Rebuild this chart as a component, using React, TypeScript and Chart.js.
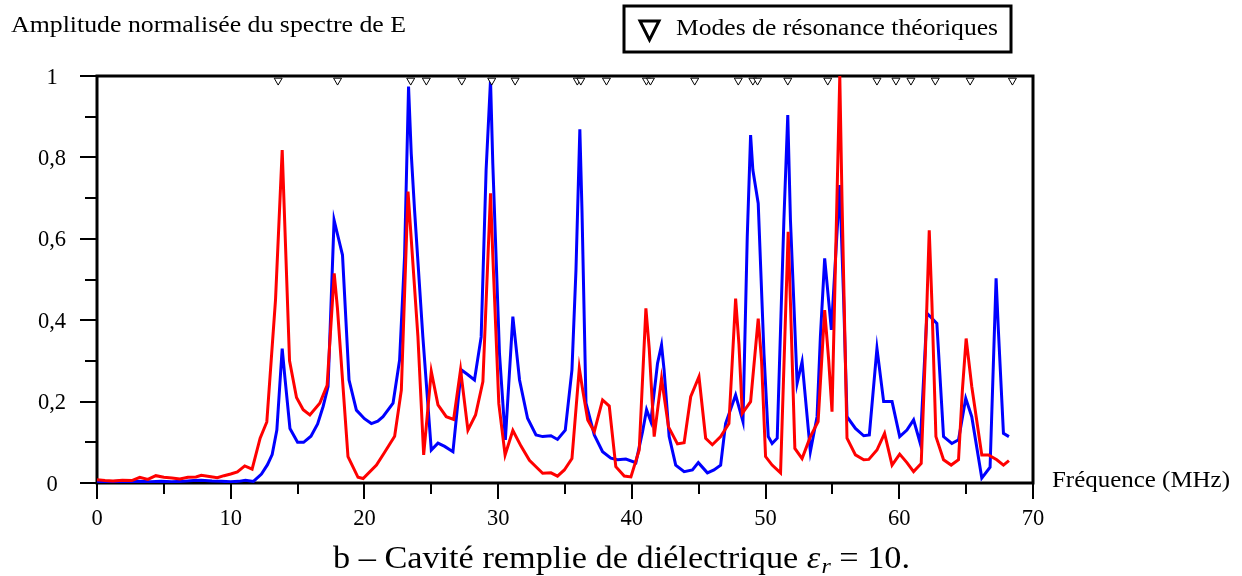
import React, { useEffect, useRef } from "react";
import { Chart, registerables } from "chart.js";

Chart.register(...registerables);

// ---------------- data ----------------
const blueFreq = [
  0, 0.8, 1.6, 2.4, 3.2, 4.0, 4.8, 5.6, 6.4, 7.2, 7.8, 8.6, 9.3, 10.0, 10.6, 11.1, 11.7, 12.3, 12.75, 13.1,
  13.45, 13.85, 14.05, 14.43, 15.0, 15.45, 16.0, 16.5, 16.91, 17.28, 17.73, 18.03, 18.36, 18.85, 19.4, 20.0,
  20.52, 21.0, 21.39, 22.14, 22.63, 23.0, 23.3, 23.5, 23.75, 24.37, 25.0, 25.5, 26.0, 26.62, 27.24, 27.74,
  28.23, 28.73, 29.1, 29.43, 29.6, 30.1, 30.54, 31.1, 31.6, 32.2, 32.83, 33.33, 33.95, 34.44, 35.02, 35.52,
  35.82, 36.11, 36.27, 36.57, 37.19, 37.81, 38.43, 38.93, 39.55, 40.3, 40.8, 41.1, 41.42, 41.92, 42.22, 42.41,
  42.79, 43.28, 43.91, 44.53, 44.97, 45.65, 46.14, 46.64, 47.01, 47.76, 48.31, 48.63, 48.88, 49.05, 49.45,
  49.88, 50.2, 50.49, 50.87, 51.37, 51.66, 51.86, 52.36, 52.73, 53.35, 53.85, 54.1, 54.42, 54.92, 55.55, 55.84,
  56.09, 56.72, 57.34, 57.76, 58.33, 58.83, 59.46, 60.03, 60.57, 61.07, 61.57, 62.07, 62.31, 62.81, 63.31,
  63.93, 64.43, 64.97, 65.42, 66.17, 66.79, 67.24, 67.41, 67.79, 68.2,
];
const blueAmp = [
  0.004, 0.003, 0.004, 0.003, 0.004, 0.003, 0.004, 0.003, 0.004, 0.006, 0.007, 0.005, 0.004, 0.003, 0.004, 0.007, 0.004, 0.022, 0.045, 0.07,
  0.13, 0.33, 0.26, 0.134, 0.1, 0.1, 0.115, 0.145, 0.188, 0.237, 0.646, 0.605, 0.56, 0.253, 0.179, 0.158,
  0.146, 0.152, 0.163, 0.196, 0.302, 0.556, 0.974, 0.81, 0.67, 0.359, 0.081, 0.098, 0.09, 0.077, 0.278, 0.266,
  0.253, 0.359, 0.769, 0.99, 0.785, 0.318, 0.106, 0.409, 0.253, 0.159, 0.118, 0.114, 0.116, 0.107, 0.13, 0.278,
  0.523, 0.869, 0.67, 0.196, 0.118, 0.077, 0.061, 0.057, 0.059, 0.05, 0.126, 0.18, 0.151, 0.294, 0.339, 0.278,
  0.114, 0.044, 0.028, 0.032, 0.05, 0.025, 0.032, 0.044, 0.146, 0.216, 0.151, 0.605, 0.855, 0.769, 0.687,
  0.318, 0.114, 0.097, 0.11, 0.646, 0.904, 0.646, 0.245, 0.298, 0.077, 0.163, 0.36, 0.552, 0.376, 0.732, 0.45,
  0.163, 0.134, 0.116, 0.118, 0.331, 0.2, 0.2, 0.114, 0.13, 0.155, 0.097, 0.417, 0.409, 0.392, 0.114,
  0.097, 0.106, 0.208, 0.163, 0.012, 0.039, 0.503, 0.376, 0.122, 0.114,
];

const redFreq = [
  0, 0.6, 1.2, 1.9, 2.6, 3.2, 3.8, 4.4, 5.0, 5.6, 6.2, 6.8, 7.4, 7.8, 8.4, 9.0, 9.5, 10.0, 10.5, 11.05, 11.6,
  12.2, 12.7, 13.35, 13.85, 14.4, 14.92, 15.42, 15.92, 16.66, 17.21, 17.74, 17.98, 18.77, 19.52, 19.9, 20.9,
  21.5, 22.26, 22.76, 23.26, 23.5, 24.0, 24.43, 25.0, 25.5, 26.12, 26.67, 27.19, 27.74, 28.31, 28.86, 29.43,
  29.6, 30.05, 30.52, 31.1, 31.72, 32.34, 32.83, 33.33, 33.95, 34.44, 34.95, 35.52, 36.07, 36.32, 36.7, 37.19,
  37.81, 38.31, 38.8, 39.43, 39.93, 40.55, 41.05, 41.3, 41.67, 42.22, 42.74, 43.41, 43.91, 44.4, 45.02, 45.52,
  46.02, 46.64, 47.26, 47.76, 48.01, 48.26, 48.88, 49.45, 49.7, 50.0, 50.49, 51.12, 51.69, 51.86, 52.19, 52.73,
  53.35, 53.93, 54.42, 54.72, 54.97, 55.55, 55.72, 56.09, 56.72, 57.34, 57.72, 58.33, 58.9, 59.46, 60.03, 60.57,
  61.07, 61.64, 61.95, 62.24, 62.44, 62.74, 63.31, 63.88, 64.43, 64.72, 65.0, 65.42, 66.17, 66.67, 67.29, 67.79,
  68.2,
];
const redAmp = [
  0.008, 0.006, 0.005, 0.007, 0.006, 0.014, 0.009, 0.018, 0.014, 0.012, 0.01, 0.014, 0.015, 0.019, 0.016, 0.013, 0.018, 0.022, 0.027, 0.042, 0.034,
  0.11, 0.15, 0.45, 0.818, 0.3, 0.21, 0.18, 0.167, 0.196, 0.24, 0.515, 0.43, 0.065, 0.014, 0.011, 0.044,
  0.075, 0.115, 0.228, 0.716, 0.6, 0.36, 0.069, 0.274, 0.192, 0.163, 0.156, 0.278, 0.13, 0.167, 0.249, 0.712,
  0.56, 0.195, 0.069, 0.129, 0.09, 0.056, 0.04, 0.024, 0.025, 0.017, 0.032, 0.06, 0.282, 0.229, 0.155, 0.126,
  0.204, 0.189, 0.04, 0.017, 0.015, 0.081, 0.429, 0.33, 0.114, 0.257, 0.138, 0.096, 0.099, 0.212, 0.261, 0.11,
  0.094, 0.114, 0.146, 0.453, 0.34, 0.171, 0.2, 0.404, 0.3, 0.065, 0.044, 0.025, 0.617, 0.443, 0.085, 0.06,
  0.114, 0.151, 0.425, 0.302, 0.175, 1.0, 0.69, 0.11, 0.069, 0.057, 0.058, 0.081, 0.122, 0.044, 0.071, 0.05,
  0.028, 0.048, 0.318, 0.621, 0.443, 0.114, 0.057, 0.044, 0.057, 0.229, 0.355, 0.237, 0.069, 0.069, 0.057, 0.044,
  0.055,
];

// theoretical resonance modes (MHz)
const modeFreq = [
  13.55, 17.99, 23.46, 24.63, 27.28, 29.52, 31.27, 35.92, 36.18, 38.1, 41.09, 41.39, 44.7, 47.96, 49.05, 49.4,
  51.66, 54.65, 58.33, 59.75, 60.87, 62.69, 65.3, 68.46,
];

const yTickValues = [0, 0.1, 0.2, 0.3, 0.4, 0.5, 0.6, 0.7, 0.8, 0.9, 1];
const yTickLabels = ["0", "", "0,2", "", "0,4", "", "0,6", "", "0,8", "", "1"];
const xTickValues = [0, 5, 10, 15, 20, 25, 30, 35, 40, 45, 50, 55, 60, 65, 70];
const xTickLabels = ["0", "", "10", "", "20", "", "30", "", "40", "", "50", "", "60", "", "70"];

const yTitle = "Amplitude normalisée du spectre de E";
const xTitle = "Fréquence (MHz)";
const legendLabel = "Modes de résonance théoriques";
const captionMain = "b – Cavité remplie de diélectrique ";
const captionSym = "ε";
const captionSub = "r";
const captionTail = " = 10.";

// ---------------- styling ----------------
const W = 1242;
const H = 576;
const FAMILY = "'Liberation Serif', 'Times New Roman', serif";
const MODE_LEVEL = 0.989;

// draw text with a given font size, horizontally stretched to span a target width
function drawFitted(
  ctx: CanvasRenderingContext2D,
  text: string,
  x: number,
  y: number,
  size: number,
  width: number
) {
  ctx.font = `${size}px ${FAMILY}`;
  const w = ctx.measureText(text).width;
  const sx = width / w;
  ctx.save();
  ctx.translate(x, y);
  ctx.scale(sx, 1);
  ctx.textAlign = "left";
  ctx.textBaseline = "alphabetic";
  ctx.fillText(text, 0, 0);
  ctx.restore();
}

const decorPlugin = {
  id: "decor",
  beforeDatasetsDraw(chart: any) {
    const { ctx, chartArea: a, scales } = chart;
    ctx.save();
    ctx.strokeStyle = "#000";
    ctx.lineWidth = 3;
    ctx.strokeRect(a.left, a.top, a.right - a.left, a.bottom - a.top);
    ctx.lineWidth = 2;
    ctx.beginPath();
    yTickValues.forEach((v, i) => {
      const y = Math.round(scales.y.getPixelForValue(v));
      const len = yTickLabels[i] ? 17 : 12;
      ctx.moveTo(a.left - len, y);
      ctx.lineTo(a.left, y);
    });
    xTickValues.forEach((v, i) => {
      const x = Math.round(scales.x.getPixelForValue(v));
      const len = xTickLabels[i] ? 16 : 11;
      ctx.moveTo(x, a.bottom);
      ctx.lineTo(x, a.bottom + len);
    });
    ctx.stroke();
    ctx.restore();
  },
  afterDraw(chart: any) {
    const { ctx, scales } = chart;
    ctx.save();
    ctx.fillStyle = "#000";

    // y title
    drawFitted(ctx, yTitle, 11, 32, 23, 395);

    // tick labels
    ctx.font = `22.5px ${FAMILY}`;
    ctx.textAlign = "center";
    ctx.textBaseline = "alphabetic";
    yTickValues.forEach((v, i) => {
      if (!yTickLabels[i]) return;
      const y = scales.y.getPixelForValue(v);
      ctx.fillText(yTickLabels[i], 52, y + 7.5);
    });
    xTickValues.forEach((v, i) => {
      if (!xTickLabels[i]) return;
      const x = scales.x.getPixelForValue(v);
      ctx.fillText(xTickLabels[i], x, 525);
    });

    // x title
    drawFitted(ctx, xTitle, 1052, 487, 23, 178);

    // legend box
    ctx.lineWidth = 3;
    ctx.strokeStyle = "#000";
    ctx.strokeRect(624, 6, 387, 46);
    ctx.beginPath();
    ctx.moveTo(640, 21);
    ctx.lineTo(659, 21);
    ctx.lineTo(649.5, 40);
    ctx.closePath();
    ctx.lineJoin = "miter";
    ctx.stroke();
    drawFitted(ctx, legendLabel, 676, 35, 23, 322);

    // caption
    const cs = 31;
    const mainFont = `${cs}px ${FAMILY}`;
    const symFont = `italic ${cs}px ${FAMILY}`;
    const subFont = `italic ${cs * 0.7}px ${FAMILY}`;
    ctx.textAlign = "left";
    ctx.font = mainFont;
    const w1 = ctx.measureText(captionMain).width;
    const w4 = ctx.measureText(captionTail).width;
    ctx.font = symFont;
    const w2 = ctx.measureText(captionSym).width + 1;
    ctx.font = subFont;
    const w3 = ctx.measureText(captionSub).width;
    const total = w1 + w2 + w3 + w4;
    const sx = 577 / total;
    ctx.save();
    ctx.translate(333, 568);
    ctx.scale(sx, 1);
    let cx = 0;
    ctx.font = mainFont;
    ctx.fillText(captionMain, cx, 0);
    cx += w1;
    ctx.font = symFont;
    ctx.fillText(captionSym, cx, 0);
    cx += w2;
    ctx.font = subFont;
    ctx.fillText(captionSub, cx, 5);
    cx += w3;
    ctx.font = mainFont;
    ctx.fillText(captionTail, cx, 0);
    ctx.restore();

    ctx.restore();
  },
};

export default function App() {
  const ref = useRef<HTMLCanvasElement | null>(null);
  useEffect(() => {
    if (!ref.current) return;
    const chart = new Chart(ref.current, {
      type: "line",
      data: {
        datasets: [
          {
            label: "Modes de résonance théoriques",
            type: "scatter",
            data: modeFreq.map((f) => ({ x: f, y: MODE_LEVEL })),
            pointStyle: "triangle",
            rotation: 180,
            pointRadius: 4.6,
            pointBackgroundColor: "#ffffff",
            pointBorderColor: "#000000",
            pointBorderWidth: 1,
            showLine: false,
            clip: false,
            order: 0,
          } as any,
          {
            label: "red",
            data: redFreq.map((f, i) => ({ x: f, y: redAmp[i] })),
            borderColor: "#ff0000",
            borderWidth: 3,
            pointRadius: 0,
            tension: 0,
            fill: false,
            order: 1,
          },
          {
            label: "blue",
            data: blueFreq.map((f, i) => ({ x: f, y: blueAmp[i] })),
            borderColor: "#0000ff",
            borderWidth: 3,
            pointRadius: 0,
            tension: 0,
            fill: false,
            order: 2,
          },
        ],
      },
      options: {
        animation: false,
        responsive: false,
        devicePixelRatio: 1,
        events: [],
        layout: { padding: { left: 97, top: 76, right: W - 1033, bottom: H - 483 } },
        scales: {
          x: { type: "linear", min: 0, max: 70, display: false },
          y: { type: "linear", min: 0, max: 1, display: false },
        },
        plugins: { legend: { display: false }, tooltip: { enabled: false } },
      },
      plugins: [decorPlugin],
    });
    return () => chart.destroy();
  }, []);
  return (
    <div style={{ position: "absolute", left: 0, top: 0, width: W, height: H, background: "#fff" }}>
      <canvas ref={ref} width={W} height={H} style={{ display: "block", width: W, height: H }} />
    </div>
  );
}
